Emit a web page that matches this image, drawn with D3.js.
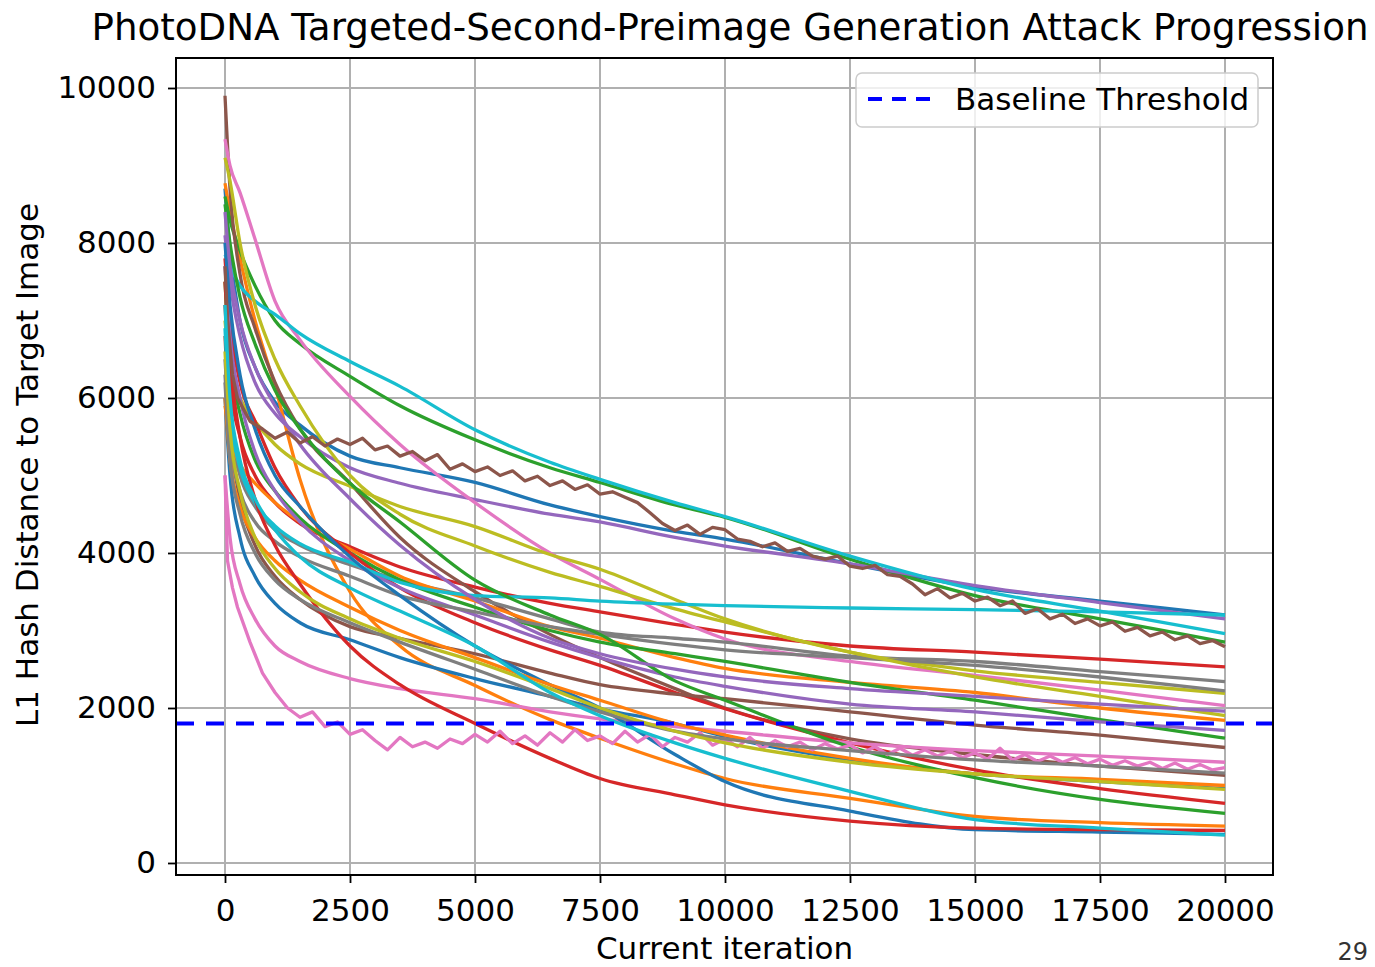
<!DOCTYPE html>
<html>
<head>
<meta charset="utf-8">
<script src="https://cdn.jsdelivr.net/npm/d3@7"></script>
<style>
  html, body { margin: 0; padding: 0; background: #fff; }
  svg { display: block; font-family: "DejaVu Sans", sans-serif; }
</style>
</head>
<body>
<svg id="chart" width="1375" height="967"></svg>
<script>
// iteration grid shared by the smooth runs
const iters = [0, 100, 300, 600, 1000, 1500, 2500, 3500, 5000, 6500, 7500, 9000, 10000, 12500, 15000, 17500, 20000]

const cyanTop   = [7850, 7700, 7450, 7250, 7080, 6830, 6470, 6150, 5590, 5170, 4950, 4650, 4470, 3960, 3530, 3250, 2960]
const greenTop  = [8600, 8300, 7900, 7450, 7000, 6700, 6280, 5900, 5460, 5100, 4910, 4620, 4460, 3920, 3450, 3150, 2850]
const blueTop   = [8700, 7900, 7000, 6400, 5950, 5650, 5250, 5100, 4910, 4620, 4470, 4280, 4180, 3860, 3560, 3380, 3200]
const purpleTop = [8100, 7500, 6800, 6200, 5800, 5500, 5100, 4900, 4690, 4500, 4400, 4200, 4090, 3860, 3580, 3360, 3150]
const cyanFlat  = [6900, 5800, 5100, 4650, 4350, 4120, 3880, 3620, 3450, 3420, 3380, 3340, 3320, 3290, 3270, 3240, 3200]
const redUpper  = [7200, 6200, 5500, 5000, 4650, 4380, 4080, 3820, 3560, 3350, 3240, 3080, 2980, 2800, 2720, 2630, 2530]
const grayUpper = [6500, 5600, 5000, 4600, 4300, 4100, 3850, 3650, 3420, 3150, 2980, 2900, 2850, 2670, 2600, 2470, 2340]
const gray2     = [6300, 5400, 4800, 4400, 4150, 3950, 3700, 3450, 3240, 3050, 2950, 2820, 2750, 2650, 2550, 2400, 2220]
const oliveA    = [7000, 6400, 6000, 5700, 5400, 5150, 4860, 4600, 4340, 3980, 3790, 3400, 3150, 2720, 2480, 2330, 2190]
const oliveB    = [9100, 8800, 8000, 7200, 6500, 5900, 5000, 4500, 4090, 3750, 3570, 3280, 3110, 2720, 2400, 2150, 1900]
const pinkTop   = [9340, 9000, 8650, 8050, 7250, 6750, 6020, 5400, 4650, 4000, 3660, 3150, 2890, 2600, 2420, 2230, 2030]
const orangeLow = [8770, 8400, 7800, 7000, 6150, 4950, 3500, 2800, 2290, 1850, 1610, 1280, 1090, 835, 600, 520, 475]
const blueLow   = [8000, 7200, 6300, 5600, 5000, 4600, 3950, 3450, 2800, 2300, 2000, 1400, 1050, 670, 430, 400, 370]
const cyanLow   = [7200, 6000, 5200, 4700, 4300, 3950, 3550, 3250, 2800, 2200, 1900, 1550, 1350, 925, 560, 450, 360]
const blueMid   = [6000, 5000, 4200, 3700, 3350, 3100, 2880, 2650, 2380, 2150, 1990, 1800, 1630, 1330, 1150, 1050, 960]
const redLowest = [7500, 6500, 5500, 4700, 4100, 3600, 2800, 2300, 1800, 1350, 1090, 880, 750, 540, 450, 430, 420]
const orangeMid = [6000, 5200, 4600, 4200, 3900, 3650, 3300, 3000, 2650, 2300, 2100, 1800, 1650, 1350, 1150, 1080, 1000]
const orangeC   = [5900, 5500, 5150, 4900, 4650, 4400, 4050, 3700, 3380, 3050, 2900, 2650, 2510, 2330, 2200, 2000, 1840]
const greenMid  = [7500, 6500, 5800, 5200, 4800, 4450, 4000, 3650, 3300, 3000, 2850, 2700, 2600, 2330, 2100, 1850, 1610]
const greenLow  = [8500, 8000, 7300, 6700, 6100, 5600, 4900, 4400, 3650, 3200, 2950, 2350, 2100, 1500, 1100, 820, 640]
const purpleMid = [7700, 6800, 6000, 5300, 4800, 4400, 3900, 3550, 3200, 2850, 2650, 2400, 2280, 2050, 1950, 1820, 1710]
const purple3   = [8400, 7700, 7000, 6400, 5900, 5400, 4700, 4100, 3400, 2900, 2700, 2500, 2400, 2250, 2150, 2050, 1960]
const brownTop  = [9900, 8700, 7600, 6900, 6200, 5600, 4900, 4200, 3500, 2950, 2650, 2250, 2000, 1600, 1400, 1250, 1130]
const brownLow  = [6800, 5600, 4700, 4100, 3700, 3400, 3050, 2900, 2700, 2450, 2300, 2180, 2120, 1950, 1780, 1650, 1490]
const grayLow   = [6200, 5200, 4500, 4000, 3650, 3400, 3100, 2850, 2500, 2150, 1950, 1700, 1600, 1450, 1330, 1250, 1160]
const oliveLow  = [6600, 5600, 4800, 4200, 3800, 3500, 3150, 2900, 2600, 2250, 2000, 1700, 1550, 1300, 1150, 1050, 950]
const redLower  = [7800, 7000, 6200, 5700, 5100, 4600, 4000, 3550, 3100, 2750, 2550, 2200, 1990, 1550, 1200, 960, 770]
const pink2     = [5000, 4200, 3600, 3150, 2800, 2600, 2380, 2250, 2120, 1950, 1860, 1760, 1700, 1550, 1450, 1380, 1300]

// two runs are visibly noisy, read on a finer grid
const noisyIters = [0, 50, 150].concat(d3.range(250, 20001, 250))
const brownNoisy = [7700, 7000, 6300,
  6000, 5700, 5600, 5480, 5560, 5420, 5500, 5380, 5470, 5400,
  5480, 5330, 5380, 5250, 5310, 5190, 5270, 5080, 5150, 5050,
  5110, 5000, 5060, 4930, 4990, 4870, 4930, 4820, 4880, 4760,
  4790, 4720, 4650, 4520, 4380, 4290, 4360, 4240, 4330, 4300,
  4180, 4150, 4080, 4130, 4020, 4060, 3960, 3920, 3960, 3830,
  3800, 3840, 3720, 3700, 3600, 3460, 3540, 3420, 3480, 3380,
  3430, 3320, 3380, 3220, 3280, 3150, 3210, 3090, 3150, 3060,
  3110, 2990, 3040, 2930, 2980, 2880, 2930, 2830, 2870, 2790]
const pinkNoisy = [5000, 3900, 3550,
  3300, 2850, 2450, 2200, 2000, 1880, 1950, 1760, 1820, 1660,
  1720, 1580, 1460, 1620, 1500, 1560, 1480, 1600, 1540, 1660,
  1560, 1700, 1540, 1640, 1520, 1680, 1560, 1720, 1580, 1640,
  1540, 1700, 1560, 1660, 1500, 1620, 1560, 1680, 1520, 1600,
  1500, 1620, 1480, 1580, 1500, 1560, 1460, 1540, 1470, 1520,
  1420, 1500, 1400, 1480, 1390, 1460, 1380, 1440, 1360, 1420,
  1340, 1480, 1330, 1400, 1310, 1380, 1300, 1360, 1280, 1340,
  1260, 1320, 1250, 1300, 1220, 1290, 1210, 1270, 1200, 1230]

const baseline = 1800
const xTicks = [0, 2500, 5000, 7500, 10000, 12500, 15000, 17500, 20000]
const yTicks = [0, 2000, 4000, 6000, 8000, 10000]

const tab = d3.schemeCategory10
// [values, colour index, x grid]
const runs = [
  [blueTop, 0], [orangeLow, 1], [greenTop, 2], [redUpper, 3], [purpleTop, 4],
  [brownTop, 5], [pinkTop, 6], [grayUpper, 7], [oliveA, 8], [cyanTop, 9],
  [blueMid, 0], [orangeC, 1], [greenMid, 2], [redLower, 3], [purpleMid, 4],
  [brownLow, 5], [pink2, 6], [gray2, 7], [oliveB, 8], [cyanFlat, 9],
  [blueLow, 0], [orangeMid, 1], [greenLow, 2], [redLowest, 3], [purple3, 4],
  [brownNoisy, 5, noisyIters], [pinkNoisy, 6, noisyIters], [grayLow, 7], [oliveLow, 8], [cyanLow, 9]
]

const svg = d3.select('#chart')
const pLeft = 176, pRight = 1273, pTop = 58, pBottom = 875

const x = d3.scaleLinear().domain([-980, 20960]).range([pLeft, pRight])
const y = d3.scaleLinear().domain([-155, 10387]).range([pBottom, pTop])

// grid
const grid = svg.append('g')
grid.selectAll('.gx').data(xTicks).enter().append('line')
  .attr('x1', d => x(d)).attr('x2', d => x(d))
  .attr('y1', pTop).attr('y2', pBottom)
  .attr('stroke', '#b0b0b0').attr('stroke-width', 2)
grid.selectAll('.gy').data(yTicks).enter().append('line')
  .attr('x1', pLeft).attr('x2', pRight)
  .attr('y1', d => y(d)).attr('y2', d => y(d))
  .attr('stroke', '#b0b0b0').attr('stroke-width', 2)

svg.append('clipPath').attr('id', 'plot-clip')
  .append('rect').attr('x', pLeft).attr('y', pTop)
  .attr('width', pRight - pLeft).attr('height', pBottom - pTop)

const plot = svg.append('g').attr('clip-path', 'url(#plot-clip)')

runs.forEach(([vals, ci, xs0]) => {
  let xs = xs0 || iters
  let line = d3.line()
    .x((d, i) => x(xs[i]))
    .y(d => y(d))
    .curve(xs0 ? d3.curveLinear : d3.curveMonotoneX)
  plot.append('path')
    .datum(vals)
    .attr('d', line)
    .attr('fill', 'none')
    .attr('stroke', tab[ci])
    .attr('stroke-width', 3.3)
    .attr('stroke-linejoin', 'round')
})

plot.append('line')
  .attr('x1', pLeft).attr('x2', pRight)
  .attr('y1', y(baseline)).attr('y2', y(baseline))
  .attr('stroke', '#0000ff').attr('stroke-width', 4)
  .attr('stroke-dasharray', '18,12')

// axes
const xAxis = svg.append('g').attr('transform', `translate(0,${pBottom})`)
  .call(d3.axisBottom(x).tickValues(xTicks).tickFormat(d3.format('d')).tickSize(8).tickPadding(16))
const yAxis = svg.append('g').attr('transform', `translate(${pLeft},0)`)
  .call(d3.axisLeft(y).tickValues(yTicks).tickFormat(d3.format('d')).tickSize(8).tickPadding(12))
;[xAxis, yAxis].forEach(a => {
  a.select('.domain').remove()
  a.selectAll('.tick line').attr('stroke', '#000').attr('stroke-width', 1.8)
  a.selectAll('.tick text').attr('fill', '#000')
    .style('font-size', '31px').style('font-family', '"DejaVu Sans"')
})

svg.append('rect')
  .attr('x', pLeft).attr('y', pTop)
  .attr('width', pRight - pLeft).attr('height', pBottom - pTop)
  .attr('fill', 'none').attr('stroke', '#000').attr('stroke-width', 2)

// legend
const lg = svg.append('g')
lg.append('rect')
  .attr('x', 856).attr('y', 73).attr('width', 402).attr('height', 54).attr('rx', 6)
  .attr('fill', '#fff').attr('fill-opacity', 0.8)
  .attr('stroke', '#cccccc').attr('stroke-width', 1.5)
lg.append('line')
  .attr('x1', 868).attr('x2', 931).attr('y1', 99).attr('y2', 99)
  .attr('stroke', '#0000ff').attr('stroke-width', 4)
  .attr('stroke-dasharray', '14,10')
lg.append('text')
  .attr('x', 955).attr('y', 110)
  .style('font-size', '31px')
  .text('Baseline Threshold')

// titles
svg.append('text')
  .attr('x', 730).attr('y', 40)
  .attr('text-anchor', 'middle')
  .style('font-size', '37.2px')
  .text('PhotoDNA Targeted-Second-Preimage Generation Attack Progression')

svg.append('text')
  .attr('x', (pLeft + pRight) / 2).attr('y', 959)
  .attr('text-anchor', 'middle')
  .style('font-size', '31px')
  .text('Current iteration')

svg.append('text')
  .attr('transform', 'translate(38,465) rotate(-90)')
  .attr('text-anchor', 'middle')
  .style('font-size', '31px')
  .text('L1 Hash Distance to Target Image')

svg.append('text')
  .attr('x', 1368).attr('y', 960)
  .attr('text-anchor', 'end')
  .attr('fill', '#333')
  .style('font-size', '24px')
  .text('29')
</script>
</body>
</html>
